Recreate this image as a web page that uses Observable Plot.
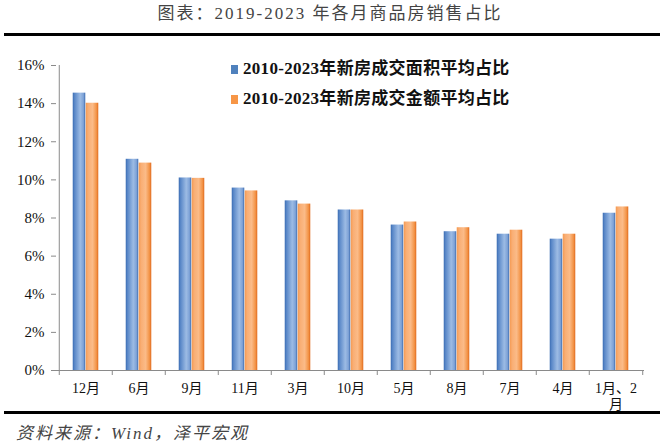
<!DOCTYPE html>
<html>
<head>
<meta charset="utf-8">
<script src="https://cdn.jsdelivr.net/npm/d3@7"></script>
<script src="https://cdn.jsdelivr.net/npm/@observablehq/plot@0.6"></script>
<style>
  html, body { margin: 0; padding: 0; background: #fff; }
  #wrap { position: relative; width: 660px; height: 442px; overflow: hidden; font-family: "Liberation Serif", "Noto Sans CJK SC", serif; }
  #title { position: absolute; left: 0; width: 660px; top: 4px; text-align: center; font-size: 17px; letter-spacing: 2px; color: #444; line-height: 20px; }
  .hline { position: absolute; left: 4px; right: 0; height: 3px; background: #000; }
  #chart { position: absolute; left: 0; top: 36px; z-index: 2; }
  #chart svg { overflow: visible; }
  #legend { position: absolute; left: 231px; top: 58px; font-weight: bold; font-size: 17px; color: #111; letter-spacing: 0.3px; z-index: 3; }
  .row { height: 30px; line-height: 22px; white-space: nowrap; }
  .sw { display: inline-block; width: 7px; height: 9px; margin-right: 5px; vertical-align: 0px; }
  #caption { position: absolute; left: 16px; top: 419px; font-size: 17px; font-style: italic; color: #444; letter-spacing: 2px; }
</style>
</head>
<body>
<div id="wrap">
  <div id="title">图表：2019-2023 年各月商品房销售占比</div>
  <div class="hline" style="top:33px"></div>
  <div class="hline" style="top:411px"></div>
  <div id="chart"></div>
  <div id="legend"></div>
  <div id="caption">资料来源：Wind，泽平宏观</div>
</div>
<script>
const months = ["12月", "6月", "9月", "11月", "3月", "10月", "5月", "8月", "7月", "4月", "1月、2月"];
const areaShare = [14.55, 11.08, 10.10, 9.57, 8.90, 8.42, 7.63, 7.28, 7.15, 6.89, 8.25];
const amountShare = [14.02, 10.88, 10.08, 9.42, 8.73, 8.42, 7.79, 7.49, 7.36, 7.15, 8.58];
const seriesNames = ["2010-2023年新房成交面积平均占比", "2010-2023年新房成交金额平均占比"];
const yTicks = [0, 2, 4, 6, 8, 10, 12, 14, 16];
const monthLabels = {"1月、2月": "1月、2\n月"};

const W = 660, H = 374, ML = 56, MR = 16, MT = 29, MB = 40;
const bw = (W - ML - MR) / months.length;
const barW = 13;

const rows = months.map((m, i) => ({month: m, area: areaShare[i], amount: amountShare[i]}));

const plot = Plot.plot({
  width: W, height: H,
  marginLeft: ML, marginRight: MR, marginTop: MT, marginBottom: MB,
  style: {fontFamily: '"Liberation Serif", "Noto Sans CJK SC", serif', background: "transparent", color: "#111", overflow: "visible"},
  x: {domain: months, padding: 0, label: null},
  y: {domain: [0, 16], label: null},
  marks: [
    Plot.barY(rows, {x: "month", y: "area", fill: "url(#gBlue)", insetLeft: bw / 2 - barW, insetRight: bw / 2}),
    Plot.barY(rows, {x: "month", y: "amount", fill: "url(#gOrange)", insetLeft: bw / 2, insetRight: bw / 2 - barW}),
    Plot.ruleY([0], {stroke: "#8a8a8a", strokeWidth: 1}),
    Plot.ruleX([months[0]], {y1: 0, y2: 16, dx: -bw / 2, stroke: "#8a8a8a", strokeWidth: 1}),
    Plot.ruleX(months, {y1: 0, y2: 0, dx: -bw / 2, insetBottom: -5, stroke: "#8a8a8a"}),
    Plot.ruleX([months[months.length - 1]], {y1: 0, y2: 0, dx: bw / 2, insetBottom: -5, stroke: "#8a8a8a"}),
    Plot.axisY({ticks: yTicks, tickFormat: d => d + "%", tickSize: 5, tickPadding: 7, stroke: "#8a8a8a", fontSize: 15, label: null}),
    Plot.axisX({tickSize: 0, tickPadding: 11, fontSize: 14, lineHeight: 1.15, label: null, tickFormat: d => monthLabels[d] ?? d})
  ]
});

// gradients for the Excel-like bar fills
const defs = d3.select(plot).insert("defs", ":first-child");
function grad(id, stops) {
  const g = defs.append("linearGradient").attr("id", id).attr("x1", 0).attr("x2", 1).attr("y1", 0).attr("y2", 0);
  stops.forEach(([o, c]) => g.append("stop").attr("offset", o).attr("stop-color", c));
}
grad("gBlue", [[0, "#3a6cb3"], [0.15, "#5a88c8"], [0.6, "#9cbbe4"], [0.85, "#7fa3d7"], [1, "#3b6bb0"]]);
grad("gOrange", [[0, "#f59a52"], [0.2, "#f9ae74"], [0.55, "#fbbb88"], [0.85, "#f39447"], [1, "#e06a1e"]]);
document.getElementById("chart").appendChild(plot);

const legendColors = ["#4f81bd", "#f79646"];
const leg = document.getElementById("legend");
seriesNames.forEach((n, i) => {
  const r = document.createElement("div");
  r.className = "row";
  r.innerHTML = `<span class="sw" style="background:${legendColors[i]}"></span>${n}`;
  leg.appendChild(r);
});
</script>
</body>
</html>
